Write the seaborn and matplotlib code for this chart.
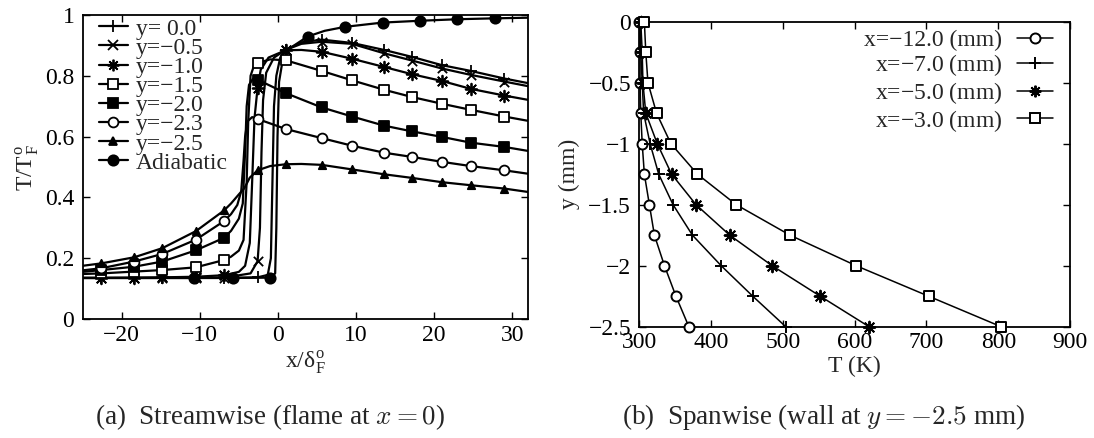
import matplotlib
matplotlib.use("Agg")
import matplotlib.pyplot as plt
from matplotlib.lines import Line2D
import pandas as pd
import seaborn as sns

# ---------------- panel (a): streamwise profiles ----------------
# x positions of the symbols (same for every wall-normal station)
mark_x = [-22.6, -18.4, -14.8, -10.5, -6.9, -2.6, 1.0, 5.6, 9.5, 13.6, 17.2, 21.0, 24.7, 29.0]
adia_mark_x = [-10.7, -5.8, -1.0, 3.8, 8.6, 13.4, 18.2, 23.0, 27.8]

# T/T_F at the symbols
y00_mark = [0.135, 0.135, 0.135, 0.135, 0.135, 0.137, 0.885, 0.919, 0.908, 0.885, 0.862, 0.835, 0.816, 0.791]
y05_mark = [0.135, 0.135, 0.135, 0.135, 0.136, 0.190, 0.885, 0.912, 0.905, 0.874, 0.850, 0.824, 0.803, 0.781]
y10_mark = [0.135, 0.136, 0.137, 0.139, 0.144, 0.761, 0.884, 0.879, 0.856, 0.829, 0.805, 0.783, 0.757, 0.735]
y15_mark = [0.150, 0.156, 0.161, 0.170, 0.194, 0.842, 0.851, 0.816, 0.785, 0.754, 0.730, 0.708, 0.688, 0.666]
y20_mark = [0.161, 0.172, 0.189, 0.226, 0.267, 0.787, 0.743, 0.696, 0.666, 0.636, 0.617, 0.599, 0.580, 0.566]
y23_mark = [0.167, 0.189, 0.214, 0.261, 0.322, 0.658, 0.625, 0.595, 0.570, 0.547, 0.533, 0.517, 0.503, 0.489]
y25_mark = [0.183, 0.203, 0.233, 0.289, 0.357, 0.489, 0.509, 0.507, 0.492, 0.476, 0.464, 0.450, 0.440, 0.429]
adia_mark = [0.135, 0.135, 0.136, 0.929, 0.961, 0.975, 0.981, 0.986, 0.989]

# extra points (ends and the flame front)
y00_x = [-25, -1.3, -0.9, -0.7, -0.5, -0.2, 0.3, 3.0, 32]
y00_y = [0.135, 0.145, 0.200, 0.450, 0.700, 0.800, 0.860, 0.910, 0.776]
y05_x = [-25, -3.5, -2.3, -2.1, -1.9, -1.5, -0.5, 3.0, 32]
y05_y = [0.135, 0.150, 0.300, 0.550, 0.720, 0.810, 0.860, 0.905, 0.766]
y10_x = [-25, -5.0, -4.2, -3.6, -3.3, -3.0, -2.2, -1.2, 3.0, 32]
y10_y = [0.135, 0.155, 0.175, 0.250, 0.450, 0.660, 0.820, 0.860, 0.885, 0.721]
y15_x = [-25, -6.0, -5.0, -4.4, -4.0, -3.8, -3.5, -3.0, -1.0, 32]
y15_y = [0.148, 0.205, 0.225, 0.260, 0.450, 0.650, 0.800, 0.838, 0.854, 0.652]
y20_x = [-25, -6.0, -5.0, -4.5, -4.2, -4.0, -3.7, -3.2, 32]
y20_y = [0.155, 0.290, 0.330, 0.380, 0.550, 0.700, 0.770, 0.790, 0.553]
y23_x = [-25, -6.0, -5.2, -4.7, -4.4, -4.2, -3.9, -3.3, 32]
y23_y = [0.160, 0.345, 0.375, 0.420, 0.520, 0.600, 0.650, 0.664, 0.478]
y25_x = [-25, -6.0, -5.0, -4.3, -3.6, -1.0, 3.0, 32]
y25_y = [0.175, 0.380, 0.410, 0.430, 0.465, 0.503, 0.510, 0.418]
adia_x = [-25, -0.35, -0.2, -0.05, 0.15, 0.6, 1.5, 6.0, 32]
adia_y = [0.135, 0.150, 0.300, 0.600, 0.780, 0.850, 0.890, 0.948, 0.991]

# ---------------- panel (b): spanwise profiles ----------------
span_y = [0, -0.25, -0.5, -0.75, -1.0, -1.25, -1.5, -1.75, -2.0, -2.25, -2.5]
T_x12 = [300, 301, 301, 302, 304, 307, 314, 321, 335, 351, 369]
T_x7 = [301, 302, 304, 306, 315, 327, 347, 374, 414, 458, 504]
T_x5 = [302, 304, 305, 309, 325, 345, 379, 426, 485, 552, 620]
T_x3 = [307, 309, 312, 324, 344, 381, 435, 510, 602, 703, 804]


def curve(mx, my, ex, ey):
    # join the symbol points and the extra line points into one sorted line
    df = pd.DataFrame({"x": list(mx) + list(ex), "y": list(my) + list(ey)})
    return df.sort_values("x")


sns.set_style("ticks")
plt.rcParams["font.family"] = ["Liberation Serif", "DejaVu Serif"]
plt.rcParams["mathtext.fontset"] = "cm"
plt.rcParams["axes.linewidth"] = 1.3
plt.rcParams["font.size"] = 17

FS = 17
fig = plt.figure(figsize=(10.94, 4.38), dpi=100)
ax1 = fig.add_axes([0.0756, 0.2717, 0.4068, 0.6941])
ax2 = fig.add_axes([0.5844, 0.2541, 0.3937, 0.6963])

# label, marker, face colour, size, line data, marker data
series_a = [
    ("y= 0.0", "+", "k", 70, y00_x, y00_y, mark_x, y00_mark),
    ("y=\u22120.5", "x", "k", 45, y05_x, y05_y, mark_x, y05_mark),
    ("y=\u22121.0", (8, 2, 0), "k", 70, y10_x, y10_y, mark_x, y10_mark),
    ("y=\u22121.5", "s", "white", 45, y15_x, y15_y, mark_x, y15_mark),
    ("y=\u22122.0", "s", "k", 50, y20_x, y20_y, mark_x, y20_mark),
    ("y=\u22122.3", "o", "white", 50, y23_x, y23_y, mark_x, y23_mark),
    ("y=\u22122.5", "^", "k", 28, y25_x, y25_y, mark_x, y25_mark),
    ("Adiabatic", "o", "k", 55, adia_x, adia_y, adia_mark_x, adia_mark),
]

handles = []
for label, m, fc, s, ex, ey, mx, my in series_a:
    df = curve(mx, my, ex, ey)
    sns.lineplot(data=df, x="x", y="y", color="k", lw=1.6,
                 estimator=None, sort=True, ax=ax1, zorder=2)
    sns.scatterplot(x=mx, y=my, marker=m, s=s, color=fc, edgecolor="k",
                    linewidth=1.3, ax=ax1, zorder=3)
    handles.append(Line2D([], [], color="k", lw=1.6, marker=m,
                          markersize=s ** 0.5, markerfacecolor=fc,
                          markeredgecolor="k", markeredgewidth=1.3, label=label))

ax1.set_xlim(-25, 32)
ax1.set_ylim(0, 1)
ax1.set_xticks([-20, -10, 0, 10, 20, 30])
ax1.set_yticks([0, 0.2, 0.4, 0.6, 0.8, 1.0])
ax1.set_yticklabels(["0", "0.2", "0.4", "0.6", "0.8", "1"])
ax1.set_xlabel("x/\u03b4$_\\mathregular{F}^\\mathregular{o}$", fontsize=FS, labelpad=2)
ax1.set_ylabel("T/T$_\\mathregular{F}^\\mathregular{o}$", fontsize=FS, labelpad=3)
ax1.legend(handles=handles, loc="upper left", bbox_to_anchor=(0.037, 0.99),
           frameon=False, fontsize=FS, handlelength=1.2, handletextpad=0.35,
           labelspacing=-0.1, borderaxespad=0, borderpad=0)

# panel (b)
pad = "$\\hspace{0.57}$"
series_b = [
    ("x=\u221212.0 (mm)", "o", "white", 52, T_x12),
    ("x=\u22127.0 (mm)" + pad, "+", "k", 80, T_x7),
    ("x=\u22125.0 (mm)" + pad, (8, 2, 0), "k", 70, T_x5),
    ("x=\u22123.0 (mm)" + pad, "s", "white", 55, T_x3),
]
handles_b = []
for label, m, fc, s, T in series_b:
    df = pd.DataFrame({"T": T, "y": span_y})
    sns.lineplot(data=df, x="T", y="y", color="k", lw=1.1,
                 estimator=None, sort=False, ax=ax2, zorder=2)
    sns.scatterplot(data=df, x="T", y="y", marker=m, s=s, color=fc,
                    edgecolor="k", linewidth=1.4, ax=ax2, zorder=3, clip_on=False)
    handles_b.append(Line2D([], [], color="k", lw=1.1, marker=m,
                            markersize=s ** 0.5, markerfacecolor=fc,
                            markeredgecolor="k", markeredgewidth=1.4, label=label))

ax2.set_xlim(300, 900)
ax2.set_ylim(-2.5, 0)
ax2.set_xticks([300, 400, 500, 600, 700, 800, 900])
ax2.set_yticks([0, -0.5, -1, -1.5, -2, -2.5])
ax2.set_yticklabels(["0", "\u22120.5", "\u22121", "\u22121.5", "\u22122", "\u22122.5"])
ax2.set_xlabel("T (K)", fontsize=FS, labelpad=2)
ax2.set_ylabel("y (mm)", fontsize=FS, labelpad=6)
ax2.legend(handles=handles_b, loc="upper right", bbox_to_anchor=(0.96, 0.975),
           frameon=False, fontsize=FS, markerfirst=False, handlelength=1.5,
           handletextpad=0.65, labelspacing=0.07, borderaxespad=0, borderpad=0)

for ax in (ax1, ax2):
    ax.tick_params(direction="in", top=True, right=True, length=5, width=1,
                   labelsize=FS, colors="k")
    ax.tick_params(axis="y", pad=6)
    ax.tick_params(axis="x", pad=4)
    for sp in ax.spines.values():
        sp.set_color("k")
        sp.set_visible(True)

fig.text(0.0868, 0.048, "(a)  Streamwise (flame at $x = 0$)", ha="left", va="center", fontsize=19.5)
fig.text(0.5683, 0.048, "(b)  Spanwise (wall at $y = {-}2.5$ mm)", ha="left", va="center", fontsize=19.5)

fig.savefig("out.png", dpi=100)
